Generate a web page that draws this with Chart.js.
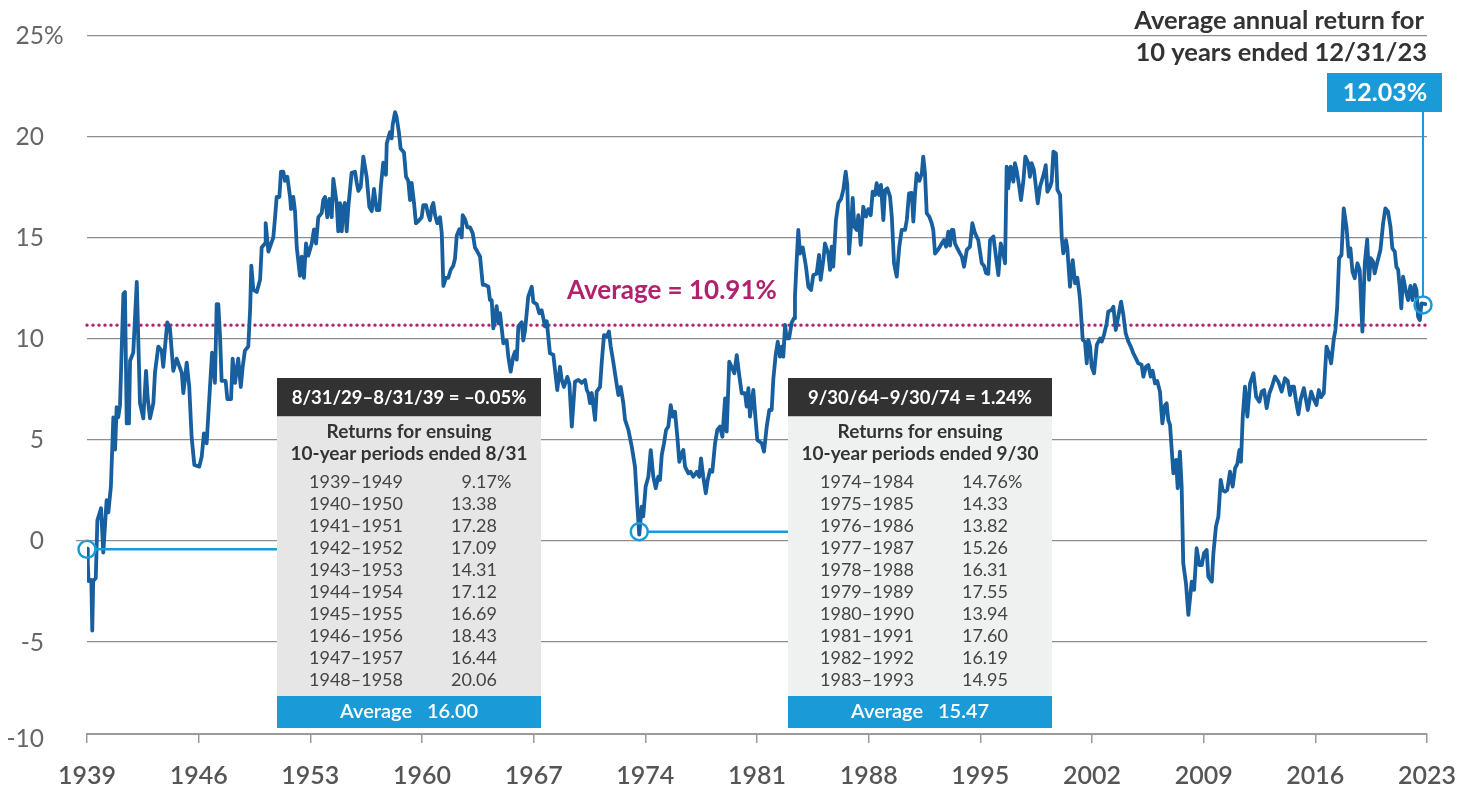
<!DOCTYPE html>
<html>
<head>
<meta charset="utf-8">
<script src="https://cdn.jsdelivr.net/npm/chart.js@4.4.1/dist/chart.umd.min.js"></script>
<style>
  html, body { margin: 0; padding: 0; background: #ffffff; }
  #wrap { position: relative; width: 1462px; height: 790px; }
</style>
</head>
<body>
<div id="wrap"><canvas id="c"></canvas></div>
<script>
// ---------- DATA ----------
const years = [
1939.00,1939.05,1939.10,1939.27,1939.33,1939.39,1939.55,1939.65,1939.88,1940.02,
1940.23,1940.34,1940.50,1940.65,1940.76,1940.86,1940.96,1941.07,1941.28,1941.38,
1941.49,1941.63,1941.70,1941.90,1942.12,1942.32,1942.53,1942.70,1942.80,1942.95,
1943.16,1943.26,1943.47,1943.68,1943.78,1944.03,1944.20,1944.41,1944.62,1944.94,
1945.04,1945.25,1945.41,1945.56,1945.73,1946.04,1946.19,1946.33,1946.50,1946.71,
1946.84,1947.02,1947.13,1947.23,1947.34,1947.44,1947.69,1947.80,1948.03,1948.13,
1948.28,1948.38,1948.48,1948.64,1948.76,1948.90,1949.11,1949.23,1949.30,1949.43,
1949.64,1949.85,1949.95,1950.16,1950.20,1950.37,1950.68,1950.79,1950.89,1951.06,
1951.16,1951.31,1951.41,1951.56,1951.73,1951.79,1951.93,1952.04,1952.15,1952.35,
1952.46,1952.60,1952.73,1952.87,1953.09,1953.23,1953.36,1953.50,1953.71,1953.81,
1953.92,1954.06,1954.19,1954.34,1954.44,1954.65,1954.75,1954.86,1954.97,1955.07,
1955.17,1955.28,1955.38,1955.59,1955.80,1955.91,1956.01,1956.16,1956.32,1956.53,
1956.70,1956.85,1956.99,1957.16,1957.32,1957.43,1957.57,1957.74,1957.79,1957.99,
1958.10,1958.16,1958.31,1958.41,1958.56,1958.66,1958.87,1959.00,1959.14,1959.25,
1959.35,1959.50,1959.62,1959.77,1959.98,1960.08,1960.25,1960.40,1960.50,1960.61,
1960.71,1960.82,1960.96,1961.13,1961.24,1961.34,1961.50,1961.65,1961.80,1961.96,
1962.07,1962.18,1962.34,1962.49,1962.55,1962.70,1962.84,1963.01,1963.18,1963.32,
1963.47,1963.64,1963.81,1963.95,1964.16,1964.26,1964.37,1964.47,1964.68,1964.78,
1964.89,1965.10,1965.31,1965.41,1965.56,1965.72,1965.83,1965.94,1966.04,1966.25,
1966.35,1966.46,1966.66,1966.88,1966.98,1967.19,1967.35,1967.50,1967.71,1967.82,
1968.02,1968.23,1968.48,1968.65,1968.76,1968.90,1969.11,1969.24,1969.39,1969.59,
1969.80,1970.01,1970.22,1970.33,1970.43,1970.53,1970.64,1970.85,1970.95,1971.16,
1971.27,1971.41,1971.58,1971.72,1971.83,1971.99,1972.16,1972.31,1972.46,1972.62,
1972.73,1972.94,1973.15,1973.35,1973.50,1973.62,1973.77,1973.87,1974.02,1974.19,
1974.34,1974.50,1974.65,1974.81,1974.92,1975.03,1975.17,1975.30,1975.44,1975.59,
1975.72,1975.86,1976.01,1976.13,1976.28,1976.38,1976.49,1976.70,1976.84,1977.01,
1977.22,1977.38,1977.49,1977.63,1977.79,1977.91,1978.06,1978.20,1978.37,1978.51,
1978.68,1978.83,1979.00,1979.10,1979.26,1979.41,1979.58,1979.73,1979.87,1980.04,
1980.25,1980.35,1980.46,1980.56,1980.77,1980.88,1981.02,1981.30,1981.44,1981.61,
1981.77,1981.92,1982.02,1982.17,1982.30,1982.44,1982.55,1982.65,1982.76,1982.86,
1983.01,1983.18,1983.32,1983.38,1983.49,1983.59,1983.70,1983.87,1984.07,1984.22,
1984.39,1984.53,1984.74,1984.89,1984.99,1985.16,1985.26,1985.47,1985.58,1985.68,
1985.78,1985.95,1986.10,1986.27,1986.41,1986.56,1986.66,1986.77,1986.89,1987.00,
1987.10,1987.25,1987.35,1987.50,1987.66,1987.83,1987.98,1988.13,1988.25,1988.40,
1988.50,1988.65,1988.77,1988.92,1989.03,1989.17,1989.34,1989.45,1989.59,1989.76,
1989.92,1990.07,1990.28,1990.39,1990.53,1990.70,1990.80,1990.91,1991.01,1991.18,
1991.33,1991.42,1991.53,1991.64,1991.80,1991.95,1992.05,1992.16,1992.33,1992.47,
1992.58,1992.72,1992.85,1992.99,1993.10,1993.21,1993.31,1993.41,1993.56,1993.73,
1993.84,1993.98,1994.15,1994.35,1994.50,1994.67,1994.87,1995.09,1995.23,1995.36,
1995.50,1995.61,1995.82,1995.98,1996.13,1996.28,1996.44,1996.55,1996.65,1996.75,
1996.90,1997.07,1997.17,1997.28,1997.44,1997.55,1997.70,1997.82,1998.01,1998.11,
1998.22,1998.36,1998.47,1998.60,1998.74,1998.85,1998.99,1999.10,1999.20,1999.37,
1999.47,1999.58,1999.74,1999.83,2000.00,2000.10,2000.20,2000.37,2000.45,2000.62,
2000.79,2000.94,2001.08,2001.21,2001.25,2001.42,2001.56,2001.67,2001.77,2001.88,
2001.98,2002.13,2002.30,2002.50,2002.61,2002.75,2002.92,2003.02,2003.23,2003.34,
2003.49,2003.65,2003.82,2003.96,2004.11,2004.28,2004.43,2004.59,2004.76,2004.90,
2005.11,2005.22,2005.38,2005.53,2005.68,2005.80,2005.95,2006.09,2006.26,2006.41,
2006.58,2006.68,2006.78,2006.89,2007.10,2007.27,2007.37,2007.51,2007.62,2007.72,
2007.89,2008.04,2008.14,2008.25,2008.40,2008.56,2008.73,2008.88,2009.02,2009.19,
2009.29,2009.51,2009.61,2009.77,2009.92,2010.07,2010.19,2010.34,2010.48,2010.65,
2010.82,2010.97,2011.11,2011.24,2011.34,2011.45,2011.59,2011.74,2011.91,2012.12,
2012.29,2012.49,2012.64,2012.79,2012.95,2013.12,2013.27,2013.47,2013.68,2013.89,
2014.10,2014.27,2014.41,2014.52,2014.66,2014.79,2014.94,2015.07,2015.28,2015.53,
2015.74,2015.90,2016.07,2016.22,2016.36,2016.53,2016.70,2016.84,2016.99,2017.16,
2017.26,2017.37,2017.49,2017.64,2017.78,2017.95,2018.10,2018.20,2018.33,2018.47,
2018.64,2018.78,2018.95,2019.10,2019.25,2019.37,2019.47,2019.62,2019.72,2019.89,
2020.08,2020.25,2020.39,2020.56,2020.71,2020.83,2020.98,2021.08,2021.19,2021.29,
2021.39,2021.50,2021.66,2021.81,2021.96,2022.09,2022.23,2022.34,2022.44,2022.55,
2022.65,2022.90
];
const returns = [
-0.4,-1.1,-2.0,-1.95,-4.45,-2.0,-1.85,1.0,1.6,-0.6,
2.0,1.4,2.7,6.1,4.5,6.6,6.1,6.7,12.2,12.3,
5.8,5.8,8.9,9.3,12.8,6.8,6.05,8.4,7.1,6.05,
6.8,8.3,9.6,9.4,8.6,10.8,10.5,8.4,9.0,8.3,
7.3,8.8,7.6,5.1,3.74,3.66,4.15,5.3,4.81,7.6,
9.3,7.8,11.7,11.7,10.1,7.9,7.9,7.0,7.0,9.0,
7.8,8.44,9.0,7.6,8.6,9.4,9.6,11.5,13.6,12.4,
12.3,12.9,14.5,14.7,15.7,14.3,15.0,16.0,17.0,17.0,
18.25,18.25,17.8,18.0,17.0,16.4,17.0,16.3,14.5,13.1,
14.05,13.0,14.7,14.1,14.7,15.4,14.7,16.0,16.2,16.85,
17.0,16.0,16.9,16.0,17.9,16.7,15.3,16.7,15.3,16.5,
16.7,15.3,16.5,18.2,18.25,17.7,17.3,17.5,19.0,18.0,
16.5,16.3,17.4,16.35,16.35,17.6,18.7,18.1,19.65,20.2,
19.9,20.56,21.2,20.95,20.15,19.4,19.2,18.0,17.8,16.85,
17.7,16.7,15.7,15.8,16.0,16.6,16.6,16.1,15.85,16.5,
16.7,16.1,15.7,16.0,15.2,12.6,13.0,13.0,13.4,13.6,
13.95,15.1,15.4,15.0,16.1,15.9,15.5,15.5,15.2,14.5,
14.3,14.05,12.65,12.65,12.56,11.9,11.9,10.5,11.6,10.75,
11.25,9.76,9.9,9.1,8.36,9.1,9.35,8.95,10.6,10.8,
9.9,10.4,12.07,12.56,11.8,11.7,11.25,11.4,10.6,10.85,
9.27,9.2,7.45,8.6,7.95,7.6,8.1,7.75,5.64,7.86,
7.95,7.8,7.95,7.45,7.29,6.8,7.3,5.97,7.37,7.6,
8.85,10.17,10.1,10.34,9.6,8.85,7.95,7.2,7.6,6.8,
5.97,5.47,4.65,3.66,1.68,0.3,1.68,1.2,2.67,3.16,
4.48,3.16,2.59,3.16,3.0,4.24,4.81,5.47,5.64,6.7,
6.13,6.38,5.1,3.9,4.32,4.48,3.66,3.33,3.4,3.16,
3.4,3.16,4.07,3.16,2.34,3.0,3.49,3.4,4.81,5.47,
5.64,5.14,7.04,5.39,8.85,8.6,8.28,9.18,8.28,7.29,
7.29,6.63,7.54,6.13,7.45,6.3,4.98,4.81,4.4,5.64,
6.46,6.46,7.95,9.18,9.84,9.1,9.6,9.1,10.67,10.0,
10.0,10.8,11.0,12.07,13.9,15.37,14.2,14.5,13.55,12.56,
12.4,13.14,13.2,14.13,12.9,13.88,14.7,14.2,13.39,14.54,
13.55,15.86,16.7,16.9,17.35,18.25,17.6,14.2,15.5,16.95,
15.53,15.37,16.1,14.63,16.52,16.03,16.4,16.1,17.26,17.1,
17.68,17.1,17.6,15.86,17.35,17.43,17.02,16.03,13.72,13.06,
14.54,15.37,15.37,15.86,17.18,17.2,15.78,17.2,18.17,17.8,
18.17,19.0,18.17,16.19,16.03,15.7,15.37,14.2,14.37,14.54,
14.7,14.87,14.54,15.28,14.6,15.37,15.37,14.7,14.46,14.2,
14.05,13.55,14.38,14.54,15.7,15.2,14.87,13.72,13.6,13.23,
13.2,14.87,15.04,14.05,13.14,14.7,14.2,13.72,18.5,17.43,
18.5,17.76,18.67,18.3,17.51,16.85,17.8,19.0,18.67,18.0,
18.67,18.34,17.6,16.69,17.51,17.8,18.17,18.58,17.26,17.5,
17.76,19.24,19.16,17.35,17.1,15.04,14.21,14.87,14.5,12.56,
13.88,12.73,13.0,12.24,11.9,9.93,9.84,8.77,9.93,9.6,
8.6,8.28,9.68,10.0,9.84,10.17,10.75,11.33,11.41,11.57,
10.42,11.1,11.82,11.2,10.26,9.84,9.6,9.27,9.0,8.77,
8.7,8.11,8.6,8.69,8.11,8.4,7.78,7.9,7.37,5.8,
6.71,6.79,5.97,5.72,3.33,3.99,2.59,4.4,2.67,-1.12,
-2.11,-3.68,-2.9,-2.03,-2.44,-0.38,-1.21,-1.21,-0.63,-0.47,
-1.79,-2.03,-0.63,0.69,1.18,3.0,2.5,2.42,2.5,3.41,
2.67,3.58,3.8,4.48,3.9,6.13,7.62,6.13,7.78,8.28,
7.12,6.87,7.37,7.45,6.55,7.29,7.6,8.11,7.86,7.37,
8.03,7.9,7.2,7.62,7.62,6.9,6.25,6.96,7.54,6.46,
7.37,7.0,6.71,7.45,7.1,7.29,9.59,9.3,8.77,10.0,
10.42,11.57,13.97,14.13,16.44,15.53,14.05,14.46,13.3,12.98,
13.72,13.39,10.34,13.72,14.9,12.9,13.97,13.8,13.22,13.8,
14.38,15.7,16.44,16.27,15.53,14.46,14.3,13.55,13.4,12.56,
11.49,13.06,12.4,11.9,12.6,11.9,12.65,12.4,11.08,10.91,
11.74,11.7
];
const xTickYears = [1939, 1946, 1953, 1960, 1967, 1974, 1981, 1988, 1995, 2002, 2009, 2016, 2023];
const yTickValues = [-10, -5, 0, 5, 10, 15, 20, 25];
const yGridValues = [-5, 0, 5, 10, 15, 20, 25];
const avgLine = 10.66;
const avgLabel = 'Average = 10.91%';
const markerYears = [1939.0, 1973.62, 2022.75];
const markerValues = [-0.43, 0.44, 11.66];
const latestLabel = '12.03%';
const titleLines = ['Average annual return for', '10 years ended 12/31/23'];

const table1Header = '8/31/29–8/31/39 = –0.05%';
const table1Sub = ['Returns for ensuing', '10-year periods ended 8/31'];
const table1Periods = ['1939–1949','1940–1950','1941–1951','1942–1952','1943–1953','1944–1954','1945–1955','1946–1956','1947–1957','1948–1958'];
const table1Returns = ['9.17','13.38','17.28','17.09','14.31','17.12','16.69','18.43','16.44','20.06'];
const table1Avg = '16.00';

const table2Header = '9/30/64–9/30/74 = 1.24%';
const table2Sub = ['Returns for ensuing', '10-year periods ended 9/30'];
const table2Periods = ['1974–1984','1975–1985','1976–1986','1977–1987','1978–1988','1979–1989','1980–1990','1981–1991','1982–1992','1983–1993'];
const table2Returns = ['14.76','14.33','13.82','15.26','16.31','17.55','13.94','17.60','16.19','14.95'];
const table2Avg = '15.47';

// ---------- STYLE ----------
const LINE_BLUE = '#175f9e';
const ACCENT = '#1a9bd7';
const MAGENTA = '#b0226d';
const GRID = '#8e8e8e';
const FONT = 'Lato, "Open Sans", sans-serif';

Chart.defaults.font.family = FONT;

function drawTable(ctx, x0, header, sub, periods, rets, avg, bodyFill) {
  const w = 264;
  ctx.save();
  ctx.fillStyle = '#323232';
  ctx.fillRect(x0, 378, w, 38.5);
  ctx.fillStyle = '#ffffff';
  ctx.font = '700 18.5px ' + FONT;
  ctx.textAlign = 'center';
  ctx.textBaseline = 'middle';
  ctx.fillText(header, x0 + w / 2, 398);

  ctx.fillStyle = bodyFill;
  ctx.fillRect(x0, 416.5, w, 279.5);

  ctx.fillStyle = '#333333';
  ctx.font = '700 19px ' + FONT;
  ctx.fillText(sub[0], x0 + w / 2, 432);
  ctx.fillText(sub[1], x0 + w / 2, 454);

  ctx.font = '400 18px ' + FONT;
  ctx.fillStyle = '#444444';
  for (let i = 0; i < periods.length; i++) {
    const yy = 481.7 + 22.03 * i;
    ctx.textAlign = 'left';
    ctx.fillText(periods[i], x0 + 32, yy);
    ctx.textAlign = 'right';
    ctx.fillText(rets[i], x0 + 220, yy);
    if (i === 0) { ctx.textAlign = 'left'; ctx.fillText('%', x0 + 220, yy); }
  }

  ctx.fillStyle = ACCENT;
  ctx.fillRect(x0, 696, w, 32);
  ctx.fillStyle = '#ffffff';
  ctx.font = '600 20px ' + FONT;
  ctx.textAlign = 'right';
  ctx.fillText('Average', x0 + 135, 711.5);
  ctx.textAlign = 'left';
  ctx.fillText(avg, x0 + 150, 711.5);
  ctx.restore();
}

const decorPlugin = {
  id: 'decor',
  afterDraw(chart) {
    const ctx = chart.ctx;
    const xs = chart.scales.x, ys = chart.scales.y;
    ctx.save();
    // zero line extends a little left of the plot
    const y0 = ys.getPixelForValue(0);
    ctx.strokeStyle = GRID; ctx.lineWidth = 1.3;
    ctx.beginPath(); ctx.moveTo(76, y0); ctx.lineTo(chart.chartArea.left, y0); ctx.stroke();

    // y labels
    ctx.font = '400 24.5px ' + FONT;
    ctx.fillStyle = '#666666';
    ctx.textBaseline = 'middle';
    yTickValues.forEach(v => {
      let py = ys.getPixelForValue(v);
      if (v === -10) py -= 4.5;
      const txt = v < 0 ? '-' + Math.abs(v) : String(v);
      ctx.textAlign = 'right';
      ctx.fillText(txt, 44, py + 1);
      if (v === 25) { ctx.textAlign = 'left'; ctx.fillText('%', 44, py + 1); }
    });

    // connectors from markers
    const r = 8.5;
    const m = markerYears.map((yr, i) => ({ x: xs.getPixelForValue(yr), y: ys.getPixelForValue(markerValues[i]) }));
    ctx.strokeStyle = ACCENT; ctx.lineWidth = 2.5;
    ctx.beginPath(); ctx.moveTo(m[0].x + r, m[0].y); ctx.lineTo(277, m[0].y); ctx.stroke();
    ctx.beginPath(); ctx.moveTo(m[1].x + r, m[1].y); ctx.lineTo(788, m[1].y); ctx.stroke();
    ctx.lineWidth = 2;
    ctx.beginPath(); ctx.moveTo(m[2].x, 111); ctx.lineTo(m[2].x, m[2].y - r); ctx.stroke();

    // tables
    drawTable(ctx, 277, table1Header, table1Sub, table1Periods, table1Returns, table1Avg, '#e6e6e6');
    drawTable(ctx, 788, table2Header, table2Sub, table2Periods, table2Returns, table2Avg, '#eff0f0');

    // latest value box
    ctx.fillStyle = ACCENT;
    ctx.fillRect(1327, 73, 115, 39);
    ctx.fillStyle = '#ffffff';
    ctx.font = '700 25px ' + FONT;
    ctx.textAlign = 'center'; ctx.textBaseline = 'middle';
    ctx.fillText(latestLabel, 1385, 93);

    // title
    ctx.fillStyle = '#333333';
    ctx.font = '700 25.5px ' + FONT;
    ctx.textAlign = 'right';
    ctx.fillText(titleLines[0], 1424, 21);
    ctx.fillText(titleLines[1], 1427, 53);

    // average label
    ctx.fillStyle = MAGENTA;
    ctx.font = '700 26px ' + FONT;
    ctx.textAlign = 'left';
    ctx.fillText(avgLabel, 567, 291);
    ctx.restore();
  }
};

const ctx = document.getElementById('c').getContext('2d');
new Chart(ctx, {
  type: 'line',
  data: {
    datasets: [
      {
        label: 'markers',
        data: markerYears.map((x, i) => ({ x: x, y: markerValues[i] })),
        showLine: false,
        pointRadius: 8.5,
        pointBorderWidth: 2.5,
        pointBorderColor: ACCENT,
        pointBackgroundColor: 'rgba(255,255,255,0)',
        clip: false
      },
      {
        label: 'Rolling 10-year return',
        data: years.map((x, i) => ({ x: x, y: returns[i] })),
        borderColor: LINE_BLUE,
        borderWidth: 3.8,
        pointRadius: 0,
        tension: 0,
        borderJoinStyle: 'round',
        borderCapStyle: 'round',
        fill: false
      },
      {
        label: 'Average',
        data: [{ x: 1939, y: avgLine }, { x: 2023, y: avgLine }],
        borderColor: MAGENTA,
        borderWidth: 3.4,
        borderDash: [0, 6],
        borderCapStyle: 'round',
        pointRadius: 0,
        fill: false,
        clip: false
      }
    ]
  },
  options: {
    responsive: true,
    maintainAspectRatio: false,
    animation: false,
    devicePixelRatio: 1,
    layout: { padding: { top: 35.3, right: 35, left: 0, bottom: 0 } },
    plugins: { legend: { display: false }, tooltip: { enabled: false } },
    scales: {
      x: {
        type: 'linear', min: 1939, max: 2023, position: 'bottom',
        afterBuildTicks: s => { s.ticks = xTickYears.map(v => ({ value: v })); },
        afterFit: s => { s.height = 56; s.paddingLeft = 0; s.paddingRight = 0; },
        grid: { display: true, drawOnChartArea: false, drawTicks: true, tickLength: 9, color: '#9a9a9a', lineWidth: 1.5 },
        border: { display: true, color: '#9a9a9a', width: 2 },
        ticks: { callback: v => String(v), font: { size: 25, weight: '600' }, color: '#555555', padding: 18, maxRotation: 0, autoSkip: false }
      },
      y: {
        min: -9.57, max: 25,
        afterBuildTicks: s => { s.ticks = yGridValues.map(v => ({ value: v })); },
        afterFit: s => { s.width = 87; s.paddingTop = 0; s.paddingBottom = 0; },
        grid: { color: GRID, lineWidth: 1.3, drawTicks: false },
        border: { display: false },
        ticks: { display: false }
      }
    }
  },
  plugins: [decorPlugin]
});
</script>
</body>
</html>
